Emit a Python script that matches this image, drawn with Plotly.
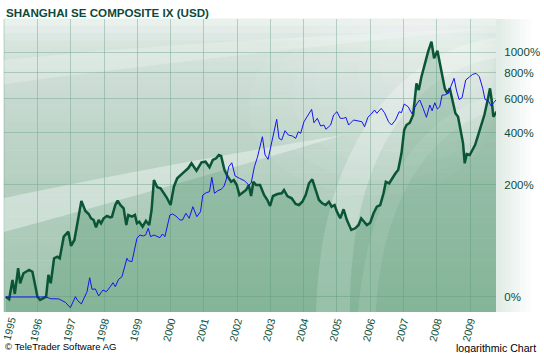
import plotly.graph_objects as go
import math

# ---------------- data ----------------
green_t = [1995.05,1995.15,1995.25,1995.32,1995.42,1995.48,1995.58,1995.75,1995.85,1996.00,
           1996.08,1996.20,1996.26,1996.33,1996.40,1996.50,1996.60,1996.67,1996.79,1996.93,
           1997.01,1997.11,1997.21,1997.32,1997.44,1997.54,1997.61,1997.69,1997.76,1997.84,
           1997.91,1997.99,1998.09,1998.19,1998.24,1998.34,1998.41,1998.49,1998.59,1998.67,
           1998.73,1998.84,1998.93,1998.99,1999.06,1999.16,1999.26,1999.36,1999.43,1999.50,
           1999.60,1999.70,1999.88,2000.00,2000.10,2000.20,2000.36,2000.53,2000.63,2000.78,
           2000.93,2001.05,2001.17,2001.27,2001.37,2001.45,2001.52,2001.62,2001.72,2001.82,
           2001.90,2001.99,2002.07,2002.17,2002.27,2002.35,2002.42,2002.49,2002.57,2002.69,
           2002.81,2002.91,2002.99,2003.08,2003.21,2003.34,2003.41,2003.51,2003.64,2003.76,
           2003.86,2003.96,2004.06,2004.16,2004.26,2004.36,2004.46,2004.56,2004.66,2004.76,
           2004.84,2004.93,2005.00,2005.10,2005.20,2005.30,2005.43,2005.55,2005.65,2005.73,
           2005.83,2005.90,2006.00,2006.10,2006.20,2006.30,2006.40,2006.47,2006.57,2006.64,
           2006.76,2006.84,2006.94,2007.02,2007.09,2007.19,2007.29,2007.39,2007.46,2007.54,
           2007.64,2007.74,2007.84,2007.92,2008.02,2008.09,2008.16,2008.24,2008.32,2008.39,
           2008.47,2008.56,2008.64,2008.72,2008.79,2008.84,2008.90,2008.99,2009.05,2009.15,
           2009.23,2009.33,2009.43,2009.53,2009.60,2009.65,2009.70,2009.80]
green_pct = [0.3,-2.2,18.1,3.0,32.5,14.4,26.2,30.3,28.1,0.3,
             -2.9,-0.3,0.3,24.1,14.4,46.1,48.5,46.1,80.6,89.7,
             64.9,74.9,112.7,156.3,132.4,125.6,116.3,112.7,98.1,112.7,
             106.0,116.3,121.3,118.4,119.7,146.4,157.1,146.4,138.6,102.6,
             123.4,119.7,123.4,106.0,109.2,99.2,110.7,102.6,134.6,214.9,
             193.1,190.3,165.8,146.4,194.9,220.2,236.3,253.2,270.9,244.9,
             274.6,276.8,256.7,283.1,289.6,302.4,298.4,247.3,225.2,209.7,
             214.9,199.8,171.8,178.0,185.5,199.8,169.2,209.7,199.8,199.8,
             171.8,158.8,144.0,169.2,174.5,176.4,185.5,169.2,163.2,148.9,
             146.4,154.5,171.8,204.9,217.1,185.5,158.8,150.6,146.4,154.5,
             142.4,146.4,130.8,116.3,136.3,112.7,92.9,96.1,102.6,116.3,
             109.2,102.6,107.2,127.2,142.4,146.4,176.4,209.7,204.9,217.1,
             236.3,247.3,309.1,414.1,440.0,452.2,495.5,712.6,661.0,767.0,
             888.7,1007.8,1122.0,938.4,1018.7,888.7,796.4,673.8,636.8,673.8,
             589.9,505.6,485.7,414.1,351.3,270.9,306.3,302.4,315.6,343.8,
             381.4,431.0,495.5,589.9,673.8,589.9,485.7,515.2]

blue_t = [1995.05,1996.25,1996.40,1996.64,1996.84,1996.99,1997.14,1997.21,1997.32,1997.49,
          1997.57,1997.64,1997.74,1997.84,1997.97,1998.07,1998.19,1998.27,1998.34,1998.44,
          1998.54,1998.69,1998.73,1998.84,1998.99,1999.08,1999.18,1999.25,1999.33,1999.40,
          1999.50,1999.58,1999.68,1999.76,1999.83,1999.98,2000.06,2000.16,2000.28,2000.36,
          2000.46,2000.56,2000.67,2000.79,2000.90,2000.97,2001.07,2001.17,2001.24,2001.32,
          2001.42,2001.52,2001.60,2001.67,2001.75,2001.84,2001.94,2002.07,2002.22,2002.35,
          2002.42,2002.52,2002.61,2002.76,2002.84,2002.93,2003.06,2003.19,2003.26,2003.34,
          2003.44,2003.54,2003.66,2003.76,2003.84,2003.91,2004.01,2004.17,2004.24,2004.31,
          2004.41,2004.51,2004.61,2004.67,2004.81,2004.90,2005.00,2005.10,2005.20,2005.27,
          2005.35,2005.50,2005.65,2005.75,2005.83,2005.93,2006.03,2006.13,2006.20,2006.33,
          2006.43,2006.55,2006.64,2006.76,2006.87,2006.94,2007.02,2007.14,2007.26,2007.34,
          2007.42,2007.49,2007.59,2007.69,2007.79,2007.86,2007.94,2008.02,2008.09,2008.16,
          2008.24,2008.34,2008.44,2008.52,2008.59,2008.67,2008.76,2008.87,2008.99,2009.08,
          2009.18,2009.28,2009.38,2009.45,2009.55,2009.63,2009.71,2009.80]
blue_pct = [0,0,-1.7,-1.9,-5.1,-10.0,0.3,-3.6,-6.6,5.3,
            20.8,7.8,8.2,1.0,7.1,5.3,10.6,15.0,10.6,18.9,
            22.0,46.1,42.7,41.4,77.8,83.6,81.8,83.6,96.1,80.6,
            83.6,81.8,78.9,85.5,80.6,123.4,125.6,121.3,112.7,112.7,
            127.2,116.3,142.4,119.7,130.8,171.8,178.0,180.8,223.3,176.4,
            183.5,187.5,194.9,214.9,258.8,273.1,227.5,220.2,212.7,199.8,
            204.9,258.8,293.4,381.4,302.4,285.7,373.9,471.0,373.9,366.1,
            410.6,389.5,384.7,373.9,405.6,397.7,457.7,509.2,529.8,452.2,
            476.6,434.6,440.0,417.7,440.0,495.5,515.2,476.6,476.6,482.3,
            440.0,467.1,463.2,457.7,431.0,482.3,501.4,525.5,505.6,536.0,
            509.2,457.7,440.0,467.1,515.2,509.2,563.4,546.0,501.4,542.2,
            571.9,589.9,536.0,482.3,556.9,521.2,571.9,531.7,546.0,624.6,
            624.6,636.8,699.2,753.5,661.0,593.5,605.6,739.4,767.0,787.6,
            796.4,767.0,673.8,593.5,585.2,550.4,571.9,594.6]

year_ticks = list(range(1996, 2010))
year_labels = [str(y) for y in year_ticks]
first_year_label = "1995"
pct_ticks = [0, 200, 400, 600, 800, 1000]
pct_labels = [f"{p}%" for p in pct_ticks]

# ---------------- figure ----------------
W, H = 544, 353
ML, MR, MT, MB = 4, 45, 19, 41
PW, PH = W - ML - MR, H - MT - MB

def px(x):  # pixel x -> paper
    return (x - ML) / PW

def py(y):  # pixel y -> paper
    return (H - MB - y) / PH

DARK = "#0c4f3a"

fig = go.Figure()

green_y = [1 + p / 100 for p in green_pct]
blue_y = [1 + p / 100 for p in blue_pct]

# baseline for area fill (below axis range -> clipped)
fig.add_trace(go.Scatter(x=[green_t[0], green_t[-1]], y=[0.5, 0.5], mode="lines",
                         line=dict(width=0), hoverinfo="skip", showlegend=False))
fig.add_trace(go.Scatter(x=green_t, y=green_y, mode="lines", fill="tonexty",
                         fillcolor="rgba(55,135,90,0.26)",
                         line=dict(color="#0a5535", width=2.5), showlegend=False))
fig.add_trace(go.Scatter(x=blue_t, y=blue_y, mode="lines",
                         line=dict(color="#1414f0", width=1), showlegend=False))

shapes = []

# vertical gradient background of plot area
stops = [(0.0, (236, 243, 240)), (0.08, (216, 229, 223)), (0.3, (197, 216, 207)),
         (0.6, (178, 206, 190)), (1.0, (160, 197, 175))]

def interp(f):
    for (f0, c0), (f1, c1) in zip(stops[:-1], stops[1:]):
        if f0 <= f <= f1:
            t = (f - f0) / (f1 - f0)
            return tuple(int(round(a + (b - a) * t)) for a, b in zip(c0, c1))
    return stops[-1][1]

N = 40
for i in range(N):
    f = (i + 0.5) / N
    c = interp(f)
    shapes.append(dict(type="rect", xref="paper", yref="paper", x0=0, x1=1,
                       y0=1 - (i + 1) / N, y1=1 - i / N + 0.002, layer="below",
                       line=dict(width=0), fillcolor=f"rgb{c}"))

# vertical grid line at the left border (1995)
shapes.append(dict(type="line", xref="paper", yref="paper", x0=0, x1=0, y0=0, y1=1,
                   layer="below", line=dict(color="rgba(110,165,140,0.45)", width=1)))

# soft glow in the upper right
for k in range(9):
    rx = 230 - k * 22
    ry = 150 - k * 14
    cx, cy = 480, 45
    shapes.append(dict(type="circle", xref="paper", yref="paper",
                       x0=px(cx - rx), x1=px(min(cx + rx, 499)), y0=py(cy + ry), y1=py(max(cy - ry, 19)),
                       layer="below", line=dict(width=0),
                       fillcolor="rgba(255,255,255,0.055)"))

def P(x, y):
    return f"{px(x):.4f},{py(y):.4f}"

# swoosh bands (decorative)
sw1 = (f"M {P(318,312)} C {P(322,150)} {P(400,50)} {P(499,38)} L {P(499,58)} "
       f"C {P(420,70)} {P(352,150)} {P(352,312)} Z")
shapes.append(dict(type="path", xref="paper", yref="paper", path=sw1, layer="below",
                   line=dict(width=0), fillcolor="rgba(255,255,255,0.28)"))
sw2 = (f"M {P(360,312)} C {P(372,180)} {P(430,110)} {P(499,95)} L {P(499,110)} "
       f"C {P(440,125)} {P(385,190)} {P(378,312)} Z")
shapes.append(dict(type="path", xref="paper", yref="paper", path=sw2, layer="below",
                   line=dict(width=0), fillcolor="rgba(255,255,255,0.18)"))
streak = (f"M {P(4,198)} Q {P(160,165)} {P(345,135)} "
          f"Q {P(160,190)} {P(4,232)} Z")
shapes.append(dict(type="path", xref="paper", yref="paper", path=streak, layer="below",
                   line=dict(width=0), fillcolor="rgba(255,255,255,0.38)"))
streak2 = (f"M {P(4,60)} Q {P(200,40)} {P(499,28)} "
           f"Q {P(200,58)} {P(4,84)} Z")
shapes.append(dict(type="path", xref="paper", yref="paper", path=streak2, layer="below",
                   line=dict(width=0), fillcolor="rgba(255,255,255,0.22)"))

# fade region to the right of the plot
for k in range(12):
    shapes.append(dict(type="rect", xref="paper", yref="paper",
                       x0=px(499 + k * 3), x1=px(502 + k * 3), y0=0, y1=1, layer="below",
                       line=dict(width=0),
                       fillcolor=f"rgba(200,220,210,{0.55 * (1 - k / 12):.3f})"))

fig.update_layout(
    width=W, height=H,
    margin=dict(l=ML, r=MR, t=MT, b=MB, pad=0),
    paper_bgcolor="white",
    plot_bgcolor="rgba(0,0,0,0)",
    shapes=shapes,
    showlegend=False,
    font=dict(family="Liberation Sans, Arial, sans-serif", color=DARK),
    xaxis=dict(range=[1994.995, 2009.78], tickmode="array", tickvals=year_ticks,
               ticktext=year_labels, tickangle=-76, showgrid=True,
               gridcolor="rgba(110,165,140,0.45)", gridwidth=1, zeroline=False,
               showline=False, ticks="", tickfont=dict(size=10.5, color=DARK)),
    yaxis=dict(type="log", range=[math.log10(0.863), math.log10(15.27)], side="right",
               tickmode="array", tickvals=[1 + p / 100 for p in pct_ticks],
               ticktext=pct_labels, showgrid=True, gridcolor="rgba(110,165,140,0.45)",
               gridwidth=1, zeroline=False, showline=False, ticks="outside",
               ticklen=5, tickcolor="rgba(0,0,0,0)",
               tickfont=dict(size=11.5, color=DARK)),
    annotations=[
        dict(text="<b>SHANGHAI SE COMPOSITE IX (USD)</b>", xref="paper", yref="paper",
             x=px(4), y=py(12), xanchor="left", yanchor="middle", showarrow=False,
             font=dict(family="Liberation Sans, Arial", size=11.6, color="#0d4a3b")),
        dict(text=first_year_label, xref="paper", yref="paper", x=px(9.5), y=py(328),
             xanchor="center", yanchor="middle", textangle=-76, showarrow=False,
             font=dict(family="Liberation Sans, Arial", size=10.5, color=DARK)),
        dict(text="© TeleTrader Software AG", xref="paper", yref="paper",
             x=px(3), y=py(346), xanchor="left", yanchor="middle", showarrow=False,
             font=dict(family="Liberation Sans, Arial", size=9.6, color="black")),
        dict(text="logarithmic Chart", xref="paper", yref="paper",
             x=px(541), y=py(348), xanchor="right", yanchor="middle", showarrow=False,
             font=dict(family="Liberation Sans, Arial", size=10.6, color="black")),
    ],
)

fig.write_html("out.html")
